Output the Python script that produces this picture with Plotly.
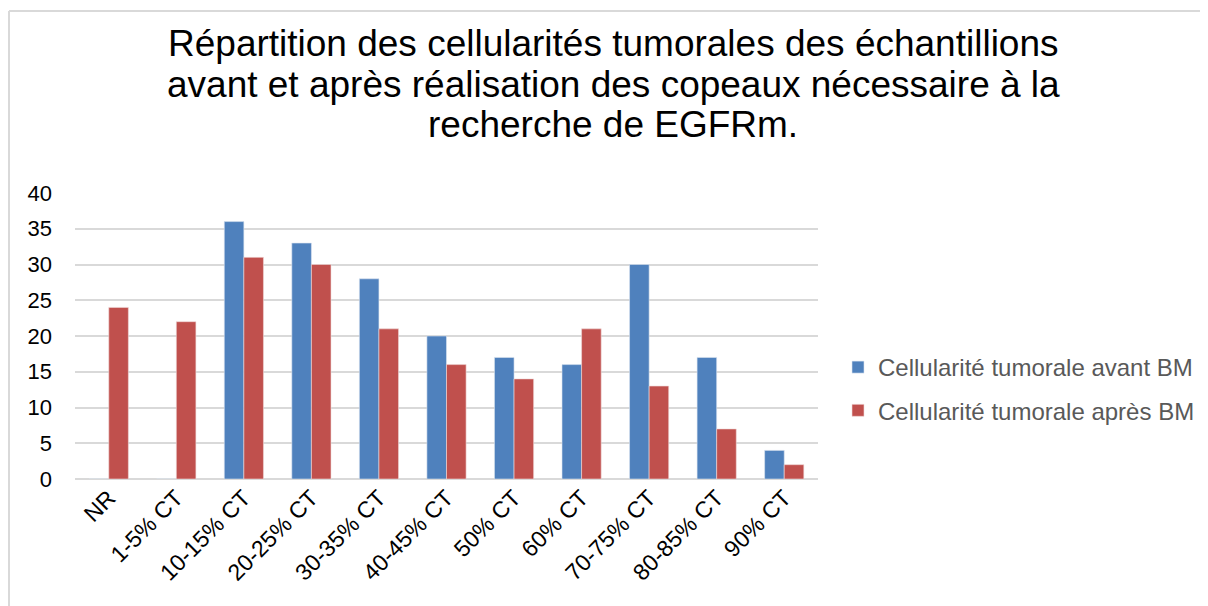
import plotly.graph_objects as go

categories = ["NR", "1-5% CT", "10-15% CT", "20-25% CT", "30-35% CT", "40-45% CT",
              "50% CT", "60% CT", "70-75% CT", "80-85% CT", "90% CT"]
avant = [0, 0, 36, 33, 28, 20, 17, 16, 30, 17, 4]
apres = [24, 22, 31, 30, 21, 16, 14, 21, 13, 7, 2]
series_names = ["Cellularité tumorale avant BM", "Cellularité tumorale après BM"]
title_lines = ["Répartition des cellularités tumorales des échantillions",
               "avant et après réalisation des copeaux nécessaire à la",
               "recherche de EGFRm."]

# figure is placed at (8,8) in the page by the body margin
W, H = 1200, 598
L, R, T, B = 67, 390, 185, 127
pw = W - L - R
ph = H - T - B

fig = go.Figure()
fig.add_trace(go.Bar(x=categories, y=avant, name=series_names[0],
                     marker=dict(color="#4f81bd", line=dict(color="#dbe4f0", width=0.6)),
                     legendgroup="a"))
fig.add_trace(go.Bar(x=categories, y=apres, name=series_names[1],
                     marker=dict(color="#c0504d", line=dict(color="#f0dada", width=0.6)),
                     legendgroup="b"))

annotations = []
for i, line in enumerate(title_lines):
    fy = 36 + 40 * i
    annotations.append(dict(text=line, xref="paper", yref="paper",
                            x=(605 - L) / pw, y=(ph + T - fy) / ph,
                            xanchor="center", yanchor="middle", showarrow=False,
                            font=dict(size=37, color="#000000")))

fig.update_layout(
    width=W, height=H,
    margin=dict(l=L, r=R, t=T, b=B, pad=0, autoexpand=False),
    paper_bgcolor="white", plot_bgcolor="white",
    font=dict(family="Liberation Sans, Arial, sans-serif", color="#000000"),
    barmode="group", bargap=0.42, bargroupgap=0,
    showlegend=True,
    legend=dict(x=(830 - L) / pw, y=(ph + T - 381) / ph, xanchor="left", yanchor="middle",
                font=dict(size=24, color="#595959"), traceorder="grouped",
                tracegroupgap=9, itemwidth=30, bgcolor="rgba(0,0,0,0)"),
    xaxis=dict(tickangle=-45, tickfont=dict(size=23, color="#000000"),
               showgrid=False, showline=False, ticks="", automargin=False),
    yaxis=dict(range=[0, 40], dtick=5, tickfont=dict(size=22, color="#000000"),
               showgrid=True, gridcolor="#d9d9d9", gridwidth=1.5,
               zeroline=True, zerolinecolor="#d9d9d9", zerolinewidth=1.5,
               showline=False, ticks="", ticklabelstandoff=22, automargin=False),
    annotations=annotations,
    shapes=[
        dict(type="line", xref="paper", yref="paper",
             x0=(1 - L) / pw, x1=(W + 5 - L) / pw,
             y0=(ph + T - 3) / ph, y1=(ph + T - 3) / ph,
             line=dict(color="#d9d9d9", width=2)),
        dict(type="line", xref="paper", yref="paper",
             x0=(1 - L) / pw, x1=(1 - L) / pw,
             y0=(ph + T - 3) / ph, y1=(-B - 5) / ph,
             line=dict(color="#d9d9d9", width=2)),
    ],
)

fig.write_html("out.html")
